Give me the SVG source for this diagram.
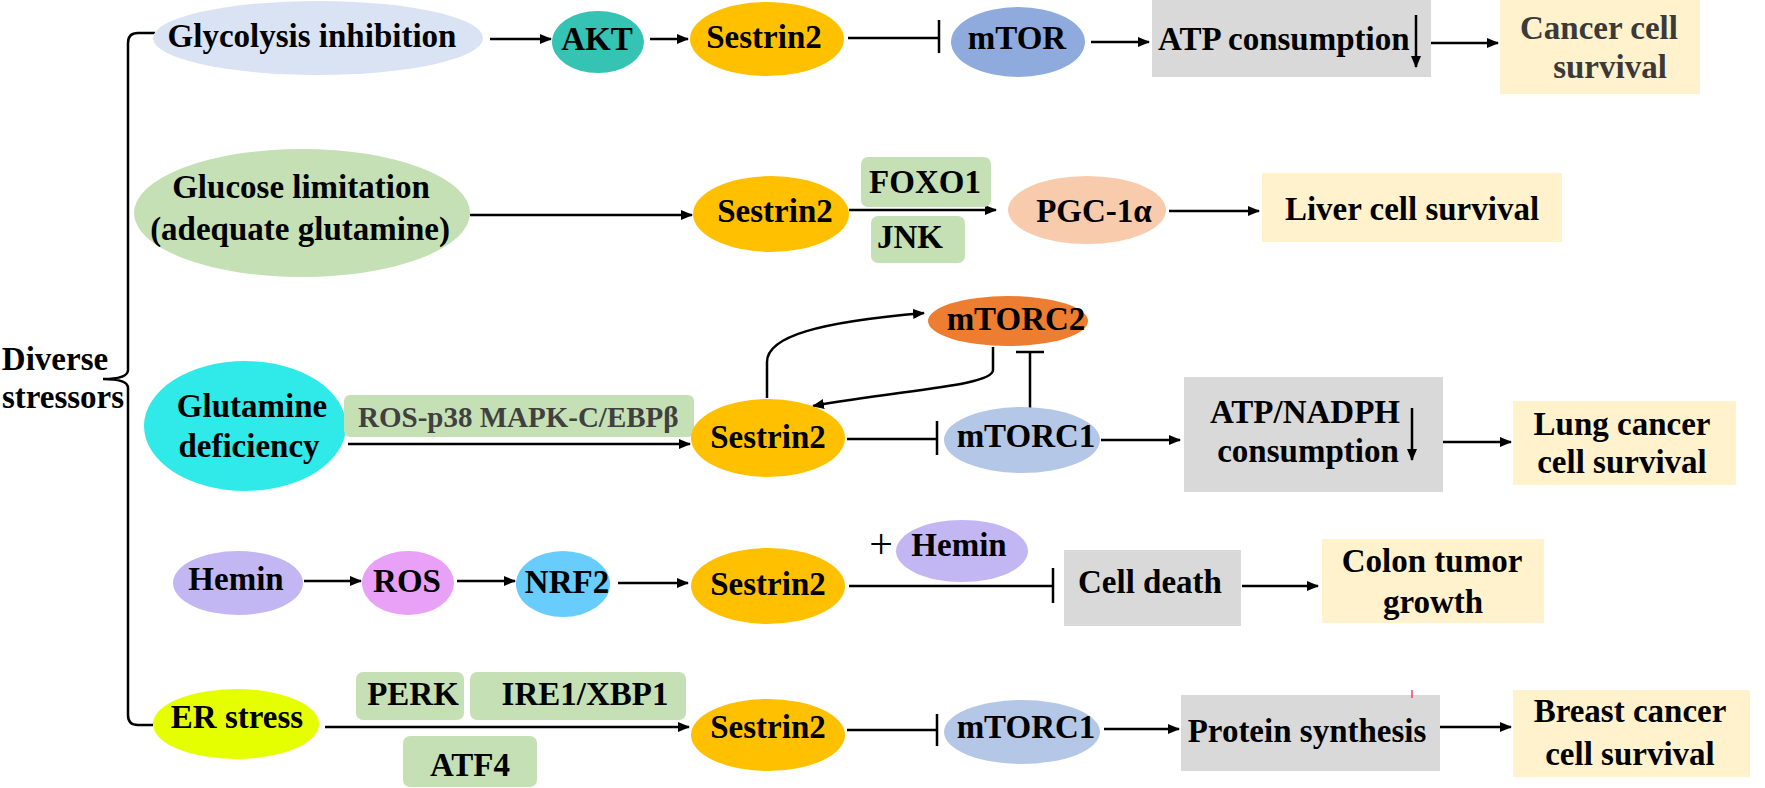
<svg xmlns="http://www.w3.org/2000/svg" width="1765" height="788" viewBox="0 0 1765 788">
<defs>
<style>
.t{font-family:"Liberation Serif","Times New Roman",serif;font-weight:bold;font-size:33px;fill:#000;text-anchor:middle}
.s{text-anchor:start}
.g{fill:#3a3a3a}
.ln{fill:none;stroke:#000;stroke-width:2.5}
.ar{fill:none;stroke:#000;stroke-width:2.5;marker-end:url(#ah)}
.box{fill:#D9D9D9}
.out{fill:#FFF2CC}
.grn{fill:#C5E0B4}
.ses{fill:#FFC000}
</style>
<marker id="ah" markerWidth="12" markerHeight="10" refX="11" refY="5" orient="auto" markerUnits="userSpaceOnUse"><path d="M0,0 L12,5 L0,10 z" fill="#000"/></marker>
</defs>
<rect width="1765" height="788" fill="#fff"/>

<g id="connectors">
<path class="ln" d="M155,33 H138 Q128,33 128,43 V370 Q128,379 103,379 Q128,379 128,388 V715 Q128,725 138,725 H153"/>
<path class="ar" d="M490,39 H551"/>
<path class="ar" d="M650,39 H688"/>
<path class="ln" d="M848,38 H939 M939,20 V53"/>
<path class="ar" d="M1091,42 H1149"/>
<path class="ar" d="M1426,43 H1498"/>
<path class="ar" d="M470,215 H692"/>
<path class="ar" d="M849,210 H996"/>
<path class="ar" d="M1169,211 H1259"/>
<path class="ar" d="M348,444 H690"/>
<path class="ln" d="M847,439 H937 M937,421 V455"/>
<path class="ar" d="M767,398 V362 C767,336 820,322 924,313"/>
<path class="ar" d="M993,347 V370 C993,386 900,390 813,406"/>
<path class="ln" d="M1030,408 V352 M1016,352 H1044"/>
<path class="ar" d="M1101,440 H1180"/>
<path class="ar" d="M1436,442 H1511"/>
<path class="ar" d="M304,581 H361"/>
<path class="ar" d="M457,581 H515"/>
<path class="ar" d="M618,583 H688"/>
<path class="ln" d="M849,586 H1053 M1053,568 V603"/>
<path class="ar" d="M1242,586 H1318"/>
<path class="ar" d="M325,727 H689"/>
<path class="ln" d="M847,730 H937 M937,714 V746"/>
<path class="ar" d="M1104,729 H1179"/>
<path class="ar" d="M1438,727 H1511"/>
</g>

<g id="diverse-stressors">
<text class="t" x="55" y="370">Diverse</text>
<text class="t" x="63" y="408">stressors</text>
</g>

<g id="glycolysis">
<ellipse cx="318" cy="38" rx="165" ry="37" fill="#DAE3F3"/>
<text class="t" x="312" y="47">Glycolysis inhibition</text>
</g>
<g id="akt">
<ellipse cx="598" cy="42" rx="46" ry="31" fill="#35C3B3"/>
<text class="t" x="597" y="50">AKT</text>
</g>
<g id="sestrin2-1">
<ellipse class="ses" cx="767" cy="39" rx="77" ry="37"/>
<text class="t" x="764" y="48">Sestrin2</text>
</g>
<g id="mtor">
<ellipse cx="1018" cy="42" rx="67" ry="35" fill="#8FAADC"/>
<text class="t" x="1017" y="49">mTOR</text>
</g>
<g id="atp">
<rect class="box" x="1152" y="0" width="279" height="77"/>
<text class="t s" x="1158" y="50">ATP consumption</text>
<path class="ar" d="M1416,15 V67"/>
</g>
<g id="cancer-survival">
<rect class="out" x="1500" y="0" width="200" height="94"/>
<text class="t g" x="1599" y="39">Cancer cell</text>
<text class="t g" x="1610" y="78">survival</text>
</g>

<g id="glucose">
<ellipse cx="302" cy="213" rx="168" ry="64" fill="#C5E0B4"/>
<text class="t" x="301" y="198">Glucose limitation</text>
<text class="t" x="300" y="240">(adequate glutamine)</text>
</g>
<g id="sestrin2-2">
<ellipse class="ses" cx="771" cy="214" rx="78" ry="38"/>
<text class="t" x="775" y="222">Sestrin2</text>
</g>
<g id="foxo1">
<rect class="grn" x="861" y="157" width="130" height="50" rx="7"/>
<text class="t" x="925" y="193">FOXO1</text>
</g>
<g id="jnk">
<rect class="grn" x="871" y="216" width="94" height="47" rx="7"/>
<text class="t" x="910" y="248">JNK</text>
</g>
<g id="pgc">
<ellipse cx="1087" cy="210" rx="79" ry="34" fill="#F8CBAD"/>
<text class="t" x="1094" y="222">PGC-1α</text>
</g>
<g id="liver">
<rect class="out" x="1262" y="173" width="300" height="69"/>
<text class="t" x="1412" y="220">Liver cell survival</text>
</g>

<g id="glutamine">
<ellipse cx="245" cy="426" rx="101" ry="65" fill="#30E9E9"/>
<text class="t" x="252" y="417">Glutamine</text>
<text class="t" x="249" y="457">deficiency</text>
</g>
<g id="ros-p38">
<rect class="grn" x="344" y="395" width="350" height="42" rx="6"/>
<text class="t s" x="358" y="427" style="font-size:29px;fill:#404040">ROS-p38 MAPK-C/EBPβ</text>
</g>
<g id="sestrin2-3">
<ellipse class="ses" cx="768" cy="438" rx="77" ry="39"/>
<text class="t" x="768" y="448">Sestrin2</text>
</g>
<g id="mtorc2">
<ellipse cx="1008" cy="321" rx="80" ry="25" fill="#ED7D31"/>
<text class="t" x="1016" y="330">mTORC2</text>
</g>
<g id="mtorc1-3">
<ellipse cx="1022" cy="440" rx="78" ry="33" fill="#B4C7E7"/>
<text class="t" x="1026" y="447">mTORC1</text>
</g>
<g id="atp-nadph">
<rect class="box" x="1184" y="377" width="259" height="115"/>
<text class="t" x="1305" y="423">ATP/NADPH</text>
<text class="t" x="1308" y="462">consumption</text>
<path class="ar" d="M1412,408 V460"/>
</g>
<g id="lung">
<rect class="out" x="1513" y="401" width="223" height="84"/>
<text class="t" x="1622" y="435">Lung cancer</text>
<text class="t" x="1622" y="473">cell survival</text>
</g>

<g id="hemin">
<ellipse cx="238" cy="583" rx="65" ry="32" fill="#C3B7F3"/>
<text class="t" x="236" y="590">Hemin</text>
</g>
<g id="ros">
<ellipse cx="408" cy="583" rx="46" ry="32" fill="#E8A1F6"/>
<text class="t" x="407" y="592">ROS</text>
</g>
<g id="nrf2">
<ellipse cx="563" cy="584" rx="47" ry="33" fill="#68CCFD"/>
<text class="t" x="567" y="593">NRF2</text>
</g>
<g id="sestrin2-4">
<ellipse class="ses" cx="768" cy="586" rx="77" ry="38"/>
<text class="t" x="768" y="595">Sestrin2</text>
</g>
<g id="plus-hemin">
<text x="881" y="558" style="font-family:'Liberation Serif',serif;font-size:42px;text-anchor:middle;fill:#000">+</text>
<ellipse cx="962" cy="551" rx="66" ry="31" fill="#C3B7F3"/>
<text class="t" x="959" y="556">Hemin</text>
</g>
<g id="cell-death">
<rect class="box" x="1064" y="550" width="177" height="76"/>
<text class="t" x="1150" y="593">Cell death</text>
</g>
<g id="colon">
<rect class="out" x="1322" y="539" width="222" height="84"/>
<text class="t" x="1432" y="572">Colon tumor</text>
<text class="t" x="1433" y="613">growth</text>
</g>

<g id="er-stress">
<ellipse cx="236" cy="724" rx="83" ry="35" fill="#E5FF00"/>
<text class="t" x="237" y="728">ER stress</text>
</g>
<g id="perk">
<rect class="grn" x="356" y="672" width="108" height="48" rx="7"/>
<text class="t" x="413" y="705">PERK</text>
</g>
<g id="ire1">
<rect class="grn" x="470" y="672" width="216" height="48" rx="7"/>
<text class="t" x="585" y="705">IRE1/XBP1</text>
</g>
<g id="atf4">
<rect class="grn" x="403" y="736" width="134" height="51" rx="7"/>
<text class="t" x="470" y="776">ATF4</text>
</g>
<g id="sestrin2-5">
<ellipse class="ses" cx="768" cy="735" rx="77" ry="36"/>
<text class="t" x="768" y="738">Sestrin2</text>
</g>
<g id="mtorc1-5">
<ellipse cx="1022" cy="732" rx="78" ry="32" fill="#B4C7E7"/>
<text class="t" x="1026" y="738">mTORC1</text>
</g>
<g id="protein">
<rect class="box" x="1181" y="695" width="259" height="76"/>
<text class="t" x="1307" y="742">Protein synthesis</text>
<path d="M1412,690 V698" stroke="#F04060" stroke-width="1.5"/>
</g>
<g id="breast">
<rect class="out" x="1513" y="690" width="237" height="87"/>
<text class="t" x="1630" y="722">Breast cancer</text>
<text class="t" x="1630" y="765">cell survival</text>
</g>
</svg>
